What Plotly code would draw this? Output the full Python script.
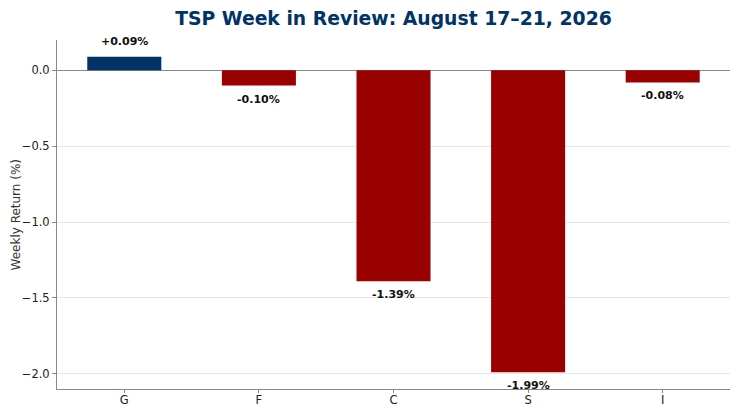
import plotly.graph_objects as go

funds = ["G", "F", "C", "S", "I"]
returns = [0.09, -0.10, -1.39, -1.99, -0.08]
labels = ["+0.09%", "-0.10%", "-1.39%", "-1.99%", "-0.08%"]
y_ticks = [0.0, -0.5, -1.0, -1.5, -2.0]
y_tick_labels = ["0.0", "\u22120.5", "\u22121.0", "\u22121.5", "\u22122.0"]
y_title = "Weekly Return (%)"

NAVY = "#003366"
RED = "#990000"
colors = [NAVY if v >= 0 else RED for v in returns]

W, H = 739, 415
L, R, T, B = 57, 9, 40, 26
PW = W - L - R

fig = go.Figure()
fig.add_trace(go.Bar(x=funds, y=returns, marker_color=colors, marker_line_width=0,
                     width=0.55, hoverinfo="x+y"))

for f, v, t in zip(funds, returns, labels):
    fig.add_annotation(x=f, y=v, text="<b>" + t + "</b>", showarrow=False,
                       yanchor="bottom" if v >= 0 else "top",
                       yshift=7 if v >= 0 else -5,
                       font=dict(family="DejaVu Sans", size=11, color="#111111"))

fig.add_annotation(xref="paper", yref="paper", x=(15 - L) / PW, y=0.5,
                   text=y_title, textangle=-90, showarrow=False,
                   xanchor="center", yanchor="middle",
                   font=dict(family="DejaVu Sans", size=12, color="#333333"))

fig.update_layout(
    width=W, height=H,
    margin=dict(l=L, r=R, t=T, b=B, autoexpand=False),
    paper_bgcolor="white", plot_bgcolor="white",
    showlegend=False,
    font=dict(family="DejaVu Sans", size=11, color="#222222"),
    title=dict(text="<b>TSP Week in Review: August 17\u201321, 2026</b>",
               x=(L + PW / 2) / W, xanchor="center", xref="container",
               y=1 - 18 / H, yanchor="middle", automargin=False,
               font=dict(family="DejaVu Sans", size=18.8, color=NAVY)),
    xaxis=dict(range=[-0.5, 4.5], showline=True, linecolor="#888888", linewidth=1,
               ticks="outside", ticklen=3, tickcolor="#888888", showgrid=False,
               automargin=False, ticklabelstandoff=-3,
               tickfont=dict(size=11.5, color="#222222"), mirror=False),
    yaxis=dict(range=[-2.1, 0.2], tickvals=y_ticks, ticktext=y_tick_labels,
               showline=True, linecolor="#888888", linewidth=1,
               ticks="outside", ticklen=4, tickcolor="#888888",
               showgrid=True, gridcolor="#e6e6e6", gridwidth=1,
               zeroline=True, zerolinecolor="#888888", zerolinewidth=1.3,
               automargin=False,
               tickfont=dict(size=11.5, color="#222222")),
)

fig.write_html("out.html", config={"displayModeBar": False},
               post_script="document.body.style.margin='0px';document.body.style.overflow='hidden';")
